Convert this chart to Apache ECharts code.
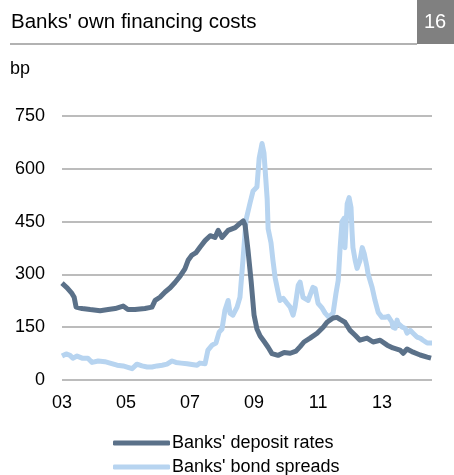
<!DOCTYPE html>
<html><head><meta charset="utf-8">
<script src="https://cdn.jsdelivr.net/npm/echarts@6/dist/echarts.min.js"></script>
<style>html,body{margin:0;padding:0;background:#fff}#c{width:454px;height:475px}</style>
</head><body><div id="c"></div>
<script>
const title = "Banks' own financing costs";
const chartNo = "16";
const unit = "bp";
const seriesNames = ["Banks' deposit rates", "Banks' bond spreads"];
const yTicks = [0, 150, 300, 450, 600, 750];
const xTickYears = [2003, 2005, 2007, 2009, 2011, 2013];

const depositDates = [2003.00,2003.16,2003.31,2003.38,2003.44,2003.63,2003.88,2004.19,2004.44,2004.66,2004.91,2005.06,2005.28,2005.59,2005.81,2005.91,2006.06,2006.22,2006.38,2006.53,2006.69,2006.84,2006.94,2007.06,2007.19,2007.31,2007.47,2007.63,2007.78,2007.88,2008.00,2008.19,2008.41,2008.56,2008.66,2008.72,2008.81,2008.91,2009.00,2009.09,2009.19,2009.31,2009.44,2009.56,2009.75,2009.94,2010.13,2010.31,2010.44,2010.56,2010.75,2010.97,2011.16,2011.28,2011.47,2011.59,2011.69,2011.84,2012.00,2012.16,2012.31,2012.53,2012.72,2012.94,2013.16,2013.34,2013.56,2013.66,2013.78,2013.97,2014.19,2014.41,2014.53];
const depositValues = [275,262,246,235,207,203,200,197,200,203,210,200,200,203,207,226,235,250,262,277,295,316,340,355,362,377,396,410,405,425,405,425,433,445,452,440,370,280,185,145,125,110,93,75,70,78,76,82,95,108,119,133,150,164,176,178,172,164,141,127,113,119,108,113,99,91,85,76,88,79,71,65,62];

const bondDates = [2003.00,2003.13,2003.25,2003.34,2003.47,2003.63,2003.81,2003.94,2004.13,2004.34,2004.50,2004.72,2004.91,2005.06,2005.19,2005.34,2005.50,2005.66,2005.81,2005.97,2006.13,2006.28,2006.44,2006.56,2006.72,2006.91,2007.06,2007.22,2007.31,2007.47,2007.56,2007.69,2007.81,2007.91,2008.00,2008.09,2008.19,2008.25,2008.34,2008.47,2008.56,2008.66,2008.75,2008.88,2008.97,2009.09,2009.16,2009.25,2009.31,2009.41,2009.44,2009.53,2009.59,2009.66,2009.75,2009.81,2009.91,2010.03,2010.13,2010.22,2010.28,2010.38,2010.44,2010.53,2010.59,2010.69,2010.84,2010.91,2011.00,2011.13,2011.22,2011.34,2011.47,2011.56,2011.63,2011.69,2011.75,2011.81,2011.84,2011.91,2011.97,2012.03,2012.06,2012.09,2012.16,2012.22,2012.25,2012.31,2012.38,2012.44,2012.53,2012.56,2012.69,2012.78,2012.88,2013.00,2013.09,2013.19,2013.31,2013.34,2013.41,2013.47,2013.50,2013.63,2013.72,2013.78,2013.88,2013.97,2014.09,2014.19,2014.28,2014.41,2014.56];
const bondValues = [68,74,70,62,68,62,62,50,54,52,48,42,40,36,32,45,40,37,37,40,42,45,54,50,48,46,44,42,48,46,85,99,105,136,145,198,226,190,184,207,235,348,455,505,537,548,630,672,645,515,430,390,340,290,250,226,232,218,207,184,207,269,278,235,232,226,263,260,218,204,190,178,190,246,283,376,450,459,376,501,518,490,425,376,340,317,317,340,376,360,320,303,263,226,192,178,178,181,164,150,147,170,161,150,147,133,141,133,122,119,113,105,105];

const zip = (a, b) => a.map((v, i) => [v, b[i]]);
const chart = echarts.init(document.getElementById('c'), null, {renderer: 'canvas'});
const FONT = 'Liberation Sans';
const legendBase = {
  orient: 'horizontal', left: 108, itemWidth: 57, itemHeight: 5, itemGap: 0,
  icon: 'roundRect',
  textStyle: {fontSize: 18, color: '#000', fontFamily: FONT, padding: [0, 0, 0, -3]}
};
chart.setOption({
  animation: false,
  textStyle: {fontFamily: FONT},
  graphic: [
    {type: 'rect', z: 0, shape: {x: 417, y: 0, width: 37, height: 44}, style: {fill: '#808080'}},
    {type: 'line', shape: {x1: 10, y1: 44, x2: 417, y2: 44}, style: {stroke: '#999', lineWidth: 1.5}}
  ],
  title: [
    {text: title, left: 6, top: 7, z: 10, textStyle: {fontSize: 20.5, fontWeight: 'normal', color: '#000', fontFamily: FONT}},
    {text: chartNo, left: 419, top: 7, z: 10, textStyle: {fontSize: 20, fontWeight: 'normal', color: '#fff', fontFamily: FONT}},
    {text: unit, left: 5, top: 55, z: 10, textStyle: {fontSize: 18, fontWeight: 'normal', color: '#000', fontFamily: FONT}}
  ],
  grid: {left: 62, right: 22, top: 116, bottom: 95, containLabel: false},
  legend: [
    Object.assign({}, legendBase, {top: 429, data: [seriesNames[0]]}),
    Object.assign({}, legendBase, {top: 453, data: [seriesNames[1]]})
  ],
  xAxis: {
    type: 'value', min: xTickYears[0], max: 2014.56, interval: 2,
    axisLine: {show: false}, axisTick: {show: false}, splitLine: {show: false},
    axisLabel: {fontSize: 18, color: '#000', margin: 14, showMaxLabel: false, fontFamily: FONT,
      formatter: v => String(Math.round(v)).slice(2)}
  },
  yAxis: {
    type: 'value', min: yTicks[0], max: yTicks[yTicks.length - 1], interval: 150,
    axisLine: {show: false}, axisTick: {show: false},
    splitLine: {lineStyle: {color: '#a6a6a6', width: 1.5}},
    axisLabel: {fontSize: 18, color: '#000', margin: 17, fontFamily: FONT}
  },
  series: [
    {name: seriesNames[1], type: 'line', data: zip(bondDates, bondValues), showSymbol: false,
      lineStyle: {color: '#b7d4f0', width: 5, join: 'round'}, itemStyle: {color: '#b7d4f0'}, z: 2},
    {name: seriesNames[0], type: 'line', data: zip(depositDates, depositValues), showSymbol: false,
      lineStyle: {color: '#5b7189', width: 5, join: 'round'}, itemStyle: {color: '#5b7189'}, z: 3}
  ]
});
</script>
</body></html>
